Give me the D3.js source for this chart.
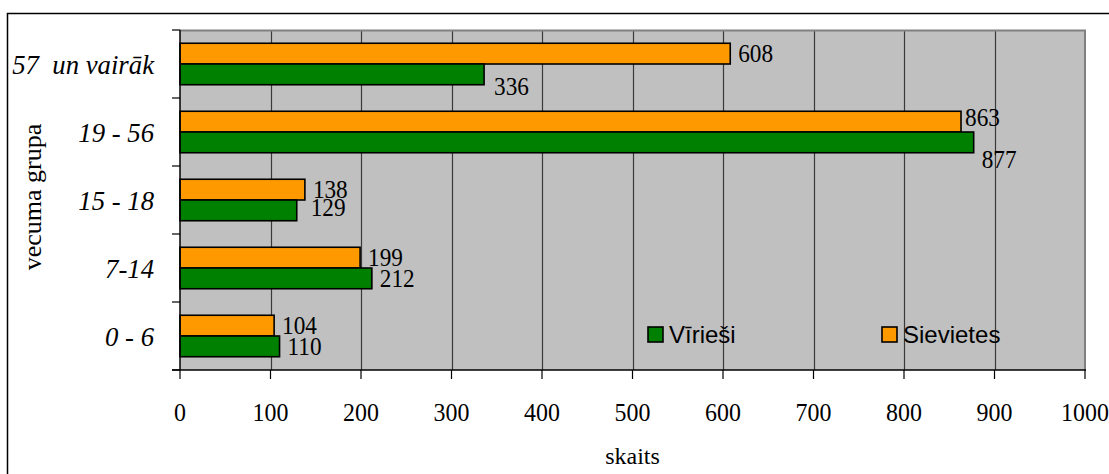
<!DOCTYPE html>
<html>
<head>
<meta charset="utf-8">
<script src="https://cdn.jsdelivr.net/npm/d3@7/dist/d3.min.js"></script>
<style>
  html, body { margin: 0; padding: 0; background: #ffffff; }
  svg { display: block; }
</style>
</head>
<body>
<svg id="chart" width="1109" height="474"></svg>
<script>
// ---- data ----
const categories = ["57  un vairāk", "19 - 56", "15 - 18", "7-14", "0 - 6"];
const seriesNames = ["Sievietes", "Vīrieši"];
const sievietes = [608, 863, 138, 199, 104];
const virieši = [336, 877, 129, 212, 110];
const xTicks = [0, 100, 200, 300, 400, 500, 600, 700, 800, 900, 1000];
const legendOrder = ["Vīrieši", "Sievietes"];
const yTitle = "vecuma grupa";
const xTitle = "skaits";

// label nudges (px) to mimic the original label placement
const labelNudge = {
  "Vīrieši|57  un vairāk": [2, 12],
  "Vīrieši|19 - 56": [0, 17],
  "Sievietes|19 - 56": [-4, -4.5],
  "Vīrieši|15 - 18": [6, -3]
};

const colors = { "Sievietes": "#FF9900", "Vīrieši": "#008000" };
const seriesValues = { "Sievietes": sievietes, "Vīrieši": virieši };

const svg = d3.select("#chart");
const serif = "Liberation Serif, Times New Roman, serif";
const sans = "Liberation Sans, Arial, sans-serif";

const plot = { left: 180, right: 1085, top: 30, bottom: 370 };

const x = d3.scaleLinear().domain([0, 1000]).range([plot.left, plot.right]);
const y = d3.scaleBand().domain(categories).range([plot.top, plot.bottom])
  .paddingInner(0.39).paddingOuter(0.195);
const ySub = d3.scaleBand().domain(seriesNames).range([0, y.bandwidth()]);
const step = (plot.bottom - plot.top) / categories.length;

// outer border
svg.append("rect").attr("x", 7.5).attr("y", 13.5).attr("width", 1200).attr("height", 600)
  .attr("fill", "none").attr("stroke", "#000").attr("stroke-width", 1.5);

// plot background
svg.append("rect").attr("x", plot.left).attr("y", plot.top)
  .attr("width", plot.right - plot.left).attr("height", plot.bottom - plot.top)
  .attr("fill", "#C0C0C0");

// gridlines
svg.append("g").selectAll("line").data(xTicks.filter(t => t > 0 && t < 1000)).join("line")
  .attr("x1", d => Math.round(x(d)) + 0.5).attr("x2", d => Math.round(x(d)) + 0.5)
  .attr("y1", plot.top).attr("y2", plot.bottom)
  .attr("stroke", "#3a3a3a").attr("stroke-width", 1.2);

// plot border top/right (gray)
svg.append("path")
  .attr("d", `M${plot.left},${plot.top + 0.5}H${plot.right}V${plot.bottom}`)
  .attr("fill", "none").attr("stroke", "#808080").attr("stroke-width", 2);

// bars
const gBars = svg.append("g");
seriesNames.forEach(s => {
  gBars.selectAll(null).data(categories).join("rect")
    .attr("x", x(0))
    .attr("y", c => y(c) + ySub(s))
    .attr("width", (c, i) => x(seriesValues[s][i]) - x(0))
    .attr("height", ySub.bandwidth())
    .attr("fill", colors[s])
    .attr("stroke", "#000").attr("stroke-width", 1.6);
});

// helper for horizontally condensed serif text
function condText(g, tx, ty, str, size, sx, anchor, italic) {
  return g.append("text")
    .attr("transform", `translate(${tx},${ty}) scale(${sx},1)`)
    .attr("text-anchor", anchor)
    .attr("font-family", serif)
    .attr("font-size", size)
    .attr("font-style", italic ? "italic" : "normal")
    .style("white-space", "pre")
    .attr("fill", "#000")
    .text(str);
}

// data labels
const gLab = svg.append("g");
seriesNames.forEach(s => {
  categories.forEach((c, i) => {
    const v = seriesValues[s][i];
    const n = labelNudge[s + "|" + c] || [0, 0];
    const cy = y(c) + ySub(s) + ySub.bandwidth() / 2;
    condText(gLab, x(v) + 8 + n[0], cy + 8.5 + n[1], String(v), 25, 0.93, "start", false);
  });
});

// axes lines
svg.append("line").attr("x1", plot.left).attr("x2", plot.left)
  .attr("y1", plot.top).attr("y2", plot.bottom).attr("stroke", "#000").attr("stroke-width", 1.5);
svg.append("line").attr("x1", plot.left - 8).attr("x2", plot.right + 1)
  .attr("y1", plot.bottom).attr("y2", plot.bottom).attr("stroke", "#000").attr("stroke-width", 1.5);

// y ticks at band boundaries
const yBounds = d3.range(categories.length + 1).map(i => plot.top + i * step);
svg.append("g").selectAll("line").data(yBounds).join("line")
  .attr("x1", plot.left - 8).attr("x2", plot.left)
  .attr("y1", d => d).attr("y2", d => d)
  .attr("stroke", "#000").attr("stroke-width", 1.2);

// x ticks
svg.append("g").selectAll("line").data(xTicks).join("line")
  .attr("x1", d => x(d)).attr("x2", d => x(d))
  .attr("y1", plot.bottom).attr("y2", plot.bottom + 9)
  .attr("stroke", "#000").attr("stroke-width", 1.2);

// x tick labels
const gXT = svg.append("g");
xTicks.forEach(t => condText(gXT, x(t), 421, String(t), 26, 0.92, "middle", false));

// category labels
const gYT = svg.append("g");
categories.forEach(c => condText(gYT, 154, y(c) + y.bandwidth() / 2 + 9.5, c, 27, 0.99, "end", true));

// axis titles
svg.append("text")
  .attr("transform", `translate(41,${(plot.top + plot.bottom) / 2 - 3}) rotate(-90)`)
  .attr("text-anchor", "middle")
  .attr("font-family", serif).attr("font-size", 26)
  .text(yTitle);
svg.append("text")
  .attr("x", (plot.left + plot.right) / 2).attr("y", 464)
  .attr("text-anchor", "middle")
  .attr("font-family", serif).attr("font-size", 24)
  .text(xTitle);

// legend
const legendX = { "Vīrieši": 648, "Sievietes": 882 };
const gLeg = svg.append("g");
legendOrder.forEach(s => {
  gLeg.append("rect").attr("x", legendX[s]).attr("y", 327).attr("width", 15).attr("height", 15)
    .attr("fill", colors[s]).attr("stroke", "#000").attr("stroke-width", 1.6);
  gLeg.append("text").attr("x", legendX[s] + 21).attr("y", 343)
    .attr("font-family", sans).attr("font-size", 24)
    .text(s);
});
</script>
</body>
</html>
